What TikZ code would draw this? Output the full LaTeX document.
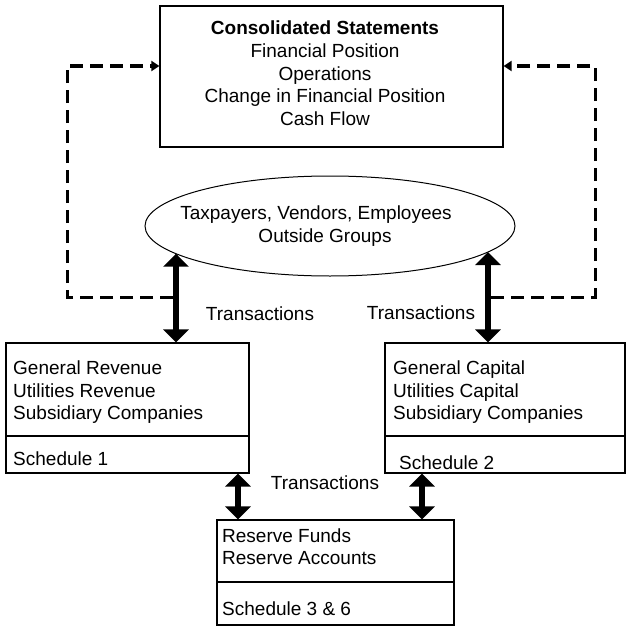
\documentclass[tikz,border=0pt]{standalone}
\usepackage{fontspec}
\setmainfont{Liberation Sans}
\usetikzlibrary{arrows.meta,shapes.geometric,calc}
\begin{document}
\begin{tikzpicture}[x=1pt,y=-1pt,
  box/.style={draw,line width=1.2pt,rectangle,inner sep=0pt},
  txt/.style={anchor=base west,inner sep=0pt,font=\fontsize{19}{22.5}\selectfont},
  lbl/.style={anchor=base,inner sep=0pt,font=\fontsize{19}{22.5}\selectfont},
  thick arrow/.style={line width=5.5pt,{Triangle[width=25pt,length=13pt]}-{Triangle[width=25pt,length=13pt]}},
  dash arrow/.style={line width=3pt,dash pattern=on 13pt off 7pt,-{Triangle[width=10pt,length=8pt]}}]
\useasboundingbox (0,0) rectangle (626,626);
\fill[white] (0,0) rectangle (626,626);
% top box
\node[box,minimum width=343pt,minimum height=141pt] (tbox) at (331.5,76.5) {};
\node[lbl] (c0) at (325,35) {\textbf{Consolidated Statements}};
\node[lbl] (c1) at (325,57.5) {Financial Position};
\node[lbl] (c2) at (325,80) {Operations};
\node[lbl] (c3) at (325,102.5) {Change in Financial Position};
\node[lbl] (c4) at (325,125) {Cash Flow};
% ellipse
\node[draw,ellipse,line width=1pt,minimum width=370pt,minimum height=100pt,inner sep=0pt] (e) at (330,226) {};
\node[lbl] (e1) at (316,219) {Taxpayers, Vendors, Employees};
\node[lbl] (e2) at (325,242) {Outside Groups};
% left box
\node[box,minimum width=243pt,minimum height=130pt] (lbox) at (127.5,408) {};
\draw[line width=1.2pt] (lbox.west |- 0,436) coordinate (ld1) -- (lbox.east |- ld1);
\node[txt] (l1) at (13,374) {General Revenue};
\node[txt] (l2) at (13,397) {Utilities Revenue};
\node[txt] (l3) at (13,419) {Subsidiary Companies};
\node[txt] (l4) at (13,465) {Schedule 1};
% right box
\node[box,minimum width=240pt,minimum height=130pt] (rbox) at (505,408) {};
\draw[line width=1.2pt] (rbox.west |- 0,436) coordinate (rd1) -- (rbox.east |- rd1);
\node[txt] (r1) at (393,374) {General Capital};
\node[txt] (r2) at (393,397) {Utilities Capital};
\node[txt] (r3) at (393,419) {Subsidiary Companies};
\node[txt] (r4) at (399,469) {Schedule 2};
% bottom box
\node[box,minimum width=237pt,minimum height=105pt] (bbox) at (335.5,572.5) {};
\draw[line width=1.2pt] (bbox.west |- 0,582) coordinate (bd1) -- (bbox.east |- bd1);
\node[txt] (b1) at (222,542) {Reserve Funds};
\node[txt] (b2) at (222,564) {Reserve Accounts};
\node[txt] (b3) at (222,615) {Schedule 3 \& 6};
% labels
\node[lbl] (t1) at (260,320) {Transactions};
\node[lbl] (t2) at (421,319) {Transactions};
\node[lbl] (t3) at (325,489) {Transactions};
% thick arrows
\coordinate (ea) at (176,253.7);
\coordinate (eb) at (488,252);
\draw[thick arrow] (ea) -- (ea |- lbox.north);
\draw[thick arrow] (eb) -- (eb |- rbox.north);
\coordinate (ba) at (238,473);
\coordinate (bb) at (422,473);
\draw[thick arrow] (ba |- lbox.south) -- (ba |- bbox.north);
\draw[thick arrow] (bb |- rbox.south) -- (bb |- bbox.north);
% dashed feedback
\coordinate (lj) at (173,297);
\coordinate (lt) at (67,66);
\draw[dash arrow] (lj) -| (lt) -- (tbox.west |- lt);
\coordinate (rj) at (491,297);
\coordinate (rt) at (595,66);
\draw[dash arrow] (rj) -| (rt) -- (tbox.east |- rt);
\end{tikzpicture}
\end{document}
